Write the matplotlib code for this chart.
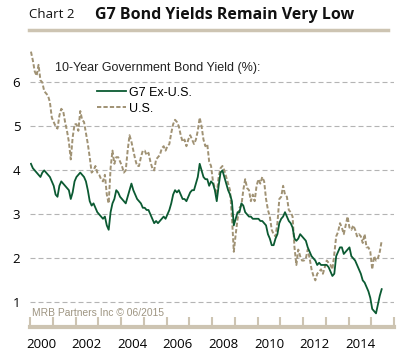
import numpy as np
import matplotlib.pyplot as plt
from matplotlib.lines import Line2D

# Monthly 10-year government bond yields (%), Jan 2000 - Jun 2015
g7_ex_us = [
    4.15, 4.05, 4.00, 3.95, 3.90, 3.85, 3.95, 4.00, 3.95, 3.90, 3.85, 3.75,  # 2000
    3.65, 3.45, 3.40, 3.65, 3.75, 3.70, 3.65, 3.60, 3.55, 3.35, 3.50, 3.75,  # 2001
    3.85, 3.90, 3.95, 3.90, 3.85, 3.75, 3.55, 3.30, 3.20, 3.25, 3.15, 3.05,  # 2002
    3.00, 2.95, 2.90, 2.95, 2.75, 2.65, 3.05, 3.25, 3.35, 3.55, 3.50, 3.40,  # 2003
    3.35, 3.30, 3.25, 3.40, 3.55, 3.70, 3.55, 3.45, 3.35, 3.30, 3.25, 3.15,  # 2004
    3.15, 3.10, 3.10, 3.00, 2.90, 2.80, 2.85, 2.80, 2.85, 2.90, 2.95, 2.90,  # 2005
    3.00, 3.10, 3.25, 3.45, 3.55, 3.50, 3.55, 3.45, 3.35, 3.35, 3.30, 3.40,  # 2006
    3.50, 3.55, 3.55, 3.70, 3.85, 4.15, 4.00, 3.85, 3.80, 3.80, 3.65, 3.75,  # 2007
    3.70, 3.55, 3.30, 3.65, 3.95, 4.00, 3.85, 3.70, 3.55, 3.45, 3.30, 2.75,  # 2008
    2.90, 3.05, 3.05, 3.25, 3.20, 3.05, 3.00, 2.95, 2.95, 2.90, 2.90, 2.90,  # 2009
    2.90, 2.85, 2.85, 2.80, 2.75, 2.55, 2.45, 2.30, 2.30, 2.45, 2.55, 2.80,  # 2010
    2.90, 2.95, 3.05, 2.95, 2.85, 2.80, 2.70, 2.45, 2.40, 2.45, 2.55, 2.50,  # 2011
    2.45, 2.40, 2.25, 2.15, 2.05, 2.00, 1.95, 1.85, 1.90, 1.85, 1.85, 1.85,  # 2012
    1.85, 1.80, 1.70, 1.60, 1.65, 2.05, 2.15, 2.25, 2.25, 2.10, 2.15, 2.20,  # 2013
    2.25, 2.05, 2.00, 1.95, 1.85, 1.75, 1.65, 1.50, 1.45, 1.35, 1.25, 1.10,  # 2014
    0.85, 0.80, 0.75, 0.95, 1.15, 1.30,                                      # 2015
]
us_yield = [
    6.70, 6.50, 6.25, 6.15, 6.40, 6.05, 6.00, 5.80, 5.75, 5.70, 5.55, 5.20,  # 2000
    5.10, 5.00, 4.95, 5.25, 5.40, 5.35, 5.10, 4.90, 4.65, 4.25, 4.75, 5.05,  # 2001
    5.05, 4.90, 5.35, 5.15, 5.10, 4.85, 4.60, 4.30, 3.95, 4.00, 4.10, 3.95,  # 2002
    3.90, 3.80, 3.75, 3.90, 3.45, 3.25, 4.05, 4.45, 4.15, 4.30, 4.30, 4.20,  # 2003
    4.10, 3.95, 4.00, 4.45, 4.80, 4.65, 4.45, 4.25, 4.10, 4.10, 4.30, 4.45,  # 2004
    4.45, 4.35, 4.40, 4.20, 4.05, 4.00, 4.25, 4.30, 4.35, 4.50, 4.55, 4.45,  # 2005
    4.55, 4.60, 4.85, 5.05, 5.15, 5.10, 5.00, 4.80, 4.65, 4.70, 4.55, 4.70,  # 2006
    4.80, 4.70, 4.60, 4.70, 4.90, 5.20, 5.00, 4.70, 4.55, 4.60, 4.20, 4.10,  # 2007
    3.75, 3.60, 3.45, 3.85, 4.05, 4.10, 4.00, 3.85, 3.70, 3.55, 2.95, 2.15,  # 2008
    2.55, 2.90, 3.15, 3.20, 3.55, 3.80, 3.60, 3.55, 3.30, 3.45, 3.30, 3.65,  # 2009
    3.80, 3.70, 3.85, 3.75, 3.35, 3.10, 2.95, 2.65, 2.55, 2.50, 2.80, 3.35,  # 2010
    3.40, 3.65, 3.45, 3.40, 3.10, 3.05, 2.95, 2.25, 1.85, 2.20, 2.05, 1.95,  # 2011
    1.95, 2.00, 2.20, 2.00, 1.75, 1.60, 1.50, 1.65, 1.70, 1.75, 1.65, 1.80,  # 2012
    1.95, 1.90, 1.85, 1.75, 2.10, 2.50, 2.60, 2.80, 2.70, 2.55, 2.75, 2.95,  # 2013
    2.70, 2.65, 2.75, 2.65, 2.50, 2.55, 2.50, 2.35, 2.55, 2.25, 2.25, 2.15,  # 2014
    1.75, 2.05, 1.95, 2.00, 2.15, 2.40,                                      # 2015
]
start_year = 2000
year_labels = [2000, 2002, 2004, 2006, 2008, 2010, 2012, 2014]
y_ticks = [1, 2, 3, 4, 5, 6]

GREEN = "#0b5a32"
TAN = "#a09274"
AXIS_TAN = "#cdc4b2"

t = start_year + (np.arange(len(us_yield)) + 0.5) / 12

fig = plt.figure(figsize=(3.99, 3.56), dpi=100)
ax = fig.add_axes([0.0752, 0.0815, 0.9123, 0.792])

ax.plot(t, us_yield, color=TAN, lw=1.4, linestyle=(0, (2.2, 1.1)), label="U.S.")
ax.plot(t, g7_ex_us, color=GREEN, lw=1.3, label="G7 Ex-U.S.")

ax.set_xlim(2000, 2016)
ax.set_ylim(0.44, 6.85)

# horizontal dashed grid
for v in y_ticks:
    ax.axhline(v, color="#b4b4b4", lw=0.8, linestyle=(0, (4.5, 2.7)), zorder=0)

# axes styling
for side in ["left", "right", "top"]:
    ax.spines[side].set_visible(False)
ax.spines["bottom"].set_color(AXIS_TAN)
ax.spines["bottom"].set_linewidth(3)

ax.set_yticks(y_ticks)
ax.set_yticklabels([str(v) for v in y_ticks], fontfamily="Open Sans", fontsize=9.5)
ax.tick_params(axis="y", length=0, pad=7)

ax.set_xticks(range(2000, 2017))
ax.tick_params(axis="x", which="major", direction="in", length=7, width=1.5,
               color=AXIS_TAN, labelbottom=False)
ax.set_xticks([y + 0.5 for y in year_labels], minor=True)
ax.set_xticklabels([str(y) for y in year_labels], minor=True,
                   fontfamily="Open Sans", fontsize=9.5)
ax.tick_params(axis="x", which="minor", length=0, pad=8)

# legend and inner texts
ax.text(0.068, 0.918, "10-Year Government Bond Yield (%):", transform=ax.transAxes,
        fontfamily="Liberation Sans", fontsize=9, color="#222222", va="center")
handles, labels = ax.get_legend_handles_labels()
ax.legend(handles[::-1], labels[::-1], loc="upper left", bbox_to_anchor=(0.184, 0.852),
          frameon=False, prop={"family": "Liberation Sans", "size": 9},
          handlelength=2.3, handletextpad=0.3, labelspacing=0.3,
          borderaxespad=0, borderpad=0)
ax.text(0.005, 0.05, "MRB Partners Inc \u00a9 06/2015", transform=ax.transAxes,
        fontfamily="Liberation Sans", fontsize=7.4, color="#9e9582", va="center")

# title with underline
fig.text(0.0727, 0.958, "Chart 2", fontfamily="Open Sans", fontsize=9.5,
         color="#111111", va="center")
fig.text(0.238, 0.958, "G7 Bond Yields Remain Very Low", fontfamily="Open Sans",
         fontweight="bold", fontsize=11.5, color="#111111", va="center")
fig.add_artist(Line2D([29 / 399, 388 / 399], [1 - 30 / 356] * 2,
                      transform=fig.transFigure, color=AXIS_TAN, lw=2.5))

fig.savefig("out.png", dpi=100)
